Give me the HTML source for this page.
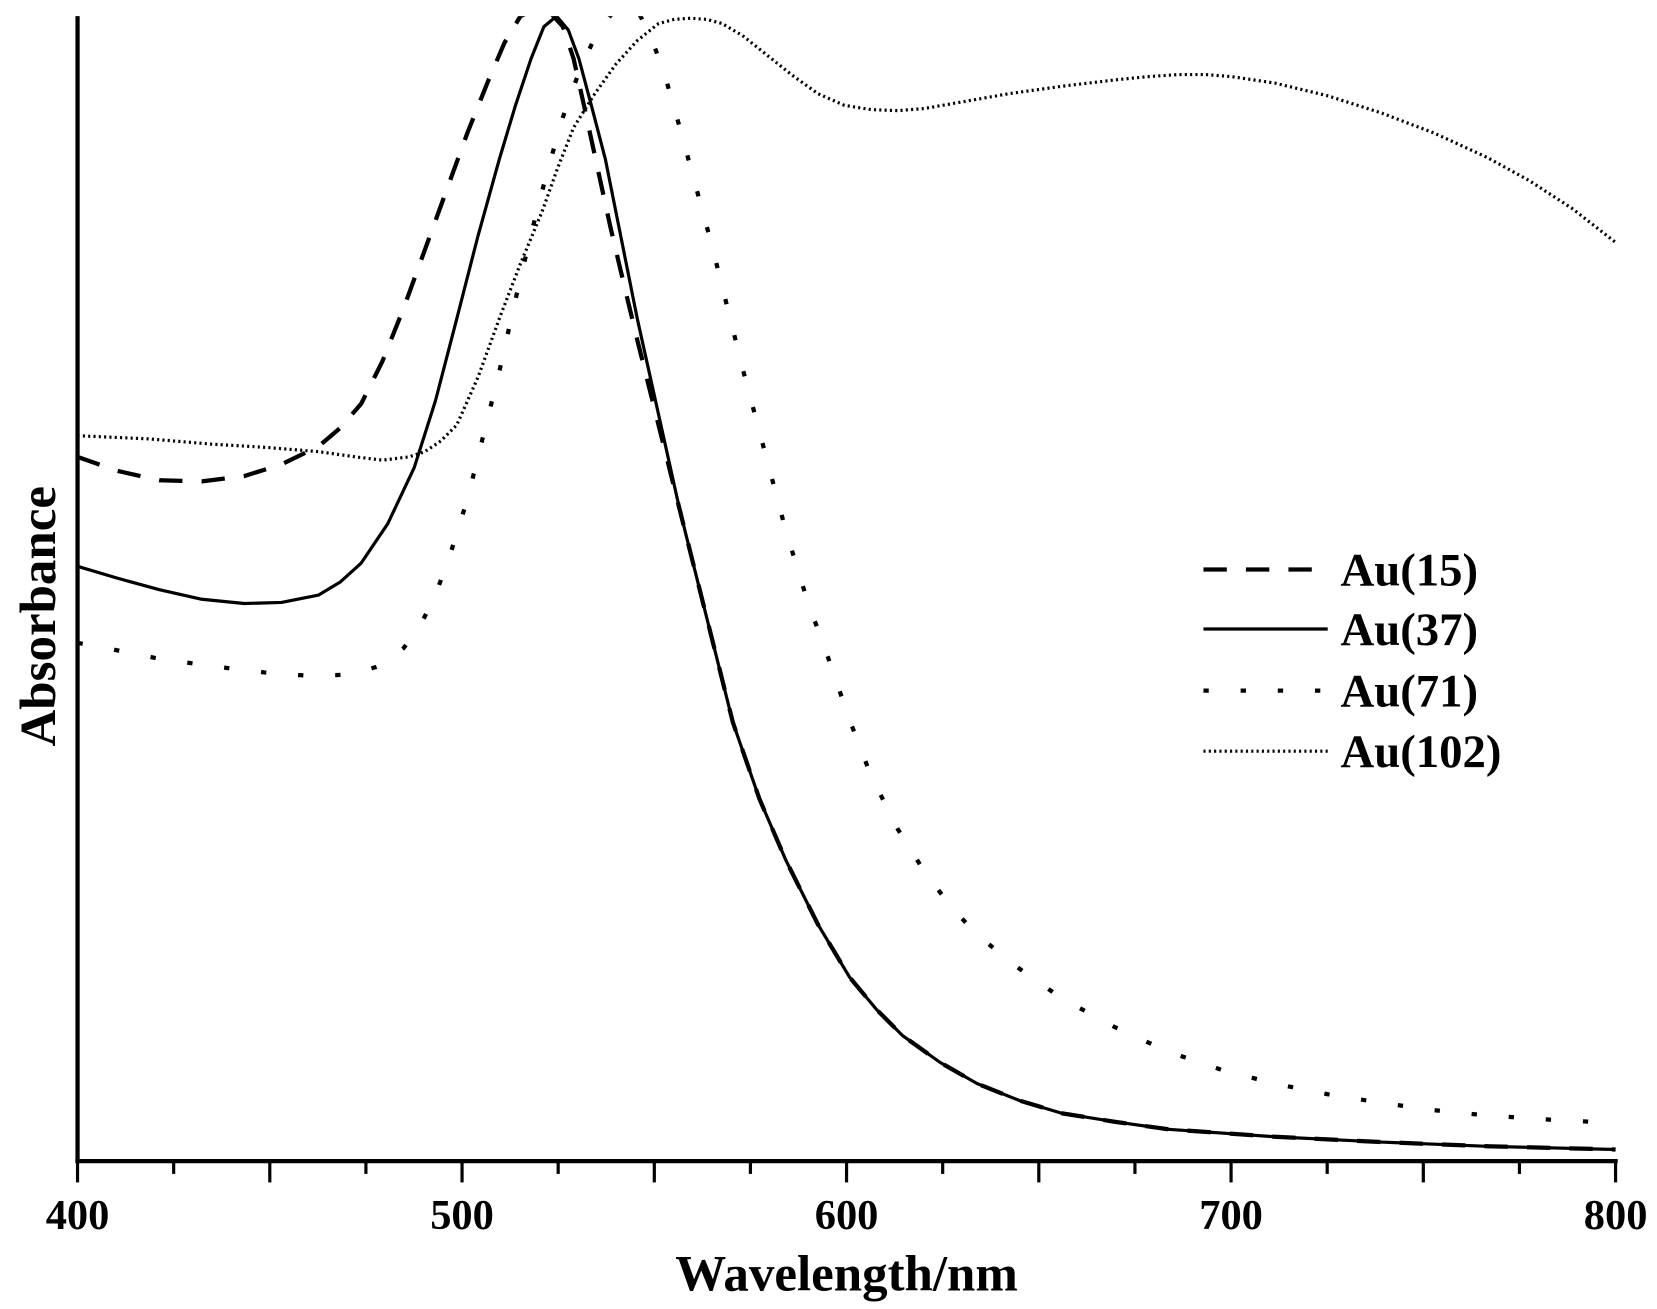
<!DOCTYPE html>
<html><head><meta charset="utf-8"><style>html,body{margin:0;padding:0;background:#fff}svg{display:block}</style></head>
<body>
<svg width="1657" height="1309" viewBox="0 0 1560 1232" xmlns="http://www.w3.org/2000/svg" font-family="Liberation Serif, serif" font-weight="bold">
<defs><clipPath id="c"><rect x="73" y="15" width="1460" height="1080"/></clipPath></defs>
<g stroke="#000" stroke-width="4" fill="none">
<line x1="73" y1="15" x2="73" y2="1095"/>
<line x1="71" y1="1093" x2="1523" y2="1093"/>
</g>
<g stroke="#000" stroke-width="3">
<line x1="73" y1="1093" x2="73" y2="1113"/>
<line x1="163.5" y1="1093" x2="163.5" y2="1105"/>
<line x1="254" y1="1093" x2="254" y2="1113"/>
<line x1="344.5" y1="1093" x2="344.5" y2="1105"/>
<line x1="435" y1="1093" x2="435" y2="1113"/>
<line x1="525.5" y1="1093" x2="525.5" y2="1105"/>
<line x1="616" y1="1093" x2="616" y2="1113"/>
<line x1="706.5" y1="1093" x2="706.5" y2="1105"/>
<line x1="797" y1="1093" x2="797" y2="1113"/>
<line x1="887.5" y1="1093" x2="887.5" y2="1105"/>
<line x1="978" y1="1093" x2="978" y2="1113"/>
<line x1="1068.5" y1="1093" x2="1068.5" y2="1105"/>
<line x1="1159" y1="1093" x2="1159" y2="1113"/>
<line x1="1249.5" y1="1093" x2="1249.5" y2="1105"/>
<line x1="1340" y1="1093" x2="1340" y2="1113"/>
<line x1="1430.5" y1="1093" x2="1430.5" y2="1105"/>
<line x1="1521" y1="1093" x2="1521" y2="1113"/>
</g>
<g font-size="40" text-anchor="middle">
<text x="73" y="1157">400</text><text x="435" y="1157">500</text><text x="797" y="1157">600</text><text x="1159" y="1157">700</text><text x="1521" y="1157">800</text>
</g>
<text x="797" y="1215" font-size="48" text-anchor="middle">Wavelength/nm</text>
<text transform="translate(52,580) rotate(-90)" font-size="48" text-anchor="middle">Absorbance</text>
<g clip-path="url(#c)" fill="none" stroke="#000" stroke-width="3" stroke-linejoin="round">
<polyline stroke-dasharray="2 3" points="73,410 140,413 200,418 250,421 300,425 335,430 360,433 385,430 400,425 415,415 430,400 450,355 470,300 490,248 510,200 525,158 540,120 560,88 580,60 600,38 620,22 635,18 650,17 665,18 680,22 700,34 720,50 745,70 770,88 795,99 820,103 845,104 870,102 910,95 950,88 1000,81 1050,75 1080,72 1110,70 1135,70 1160,72 1200,78 1250,90 1300,106 1350,125 1400,148 1440,170 1480,196 1521,228"/>
<polyline stroke-dasharray="5 30" stroke-width="4" points="73,605 110,612 150,620 200,627 250,633 290,636 330,635 360,626 380,610 395,590 410,560 425,518 440,470 455,410 470,350 485,283 500,220 515,162 530,110 545,68 560,35 575,14 590,5 603,15 615,40 628,78 640,120 655,175 670,230 685,290 700,350 720,425 740,500 760,565 780,620 800,678 820,730 845,780 870,820 895,853 920,880 960,912 1000,940 1050,967 1100,990 1150,1007 1200,1020 1250,1030 1300,1038 1350,1045 1400,1050 1460,1054 1521,1057"/>
<polyline stroke-dasharray="22 18" stroke-width="4" points="73,430 110,443 150,452 190,453 230,448 265,437 300,420 320,403 340,380 360,340 380,290 400,235 420,180 440,125 460,75 475,40 490,15 512,5 530,25 540,55 550,100 563,160 575,215 588,270 600,320 620,400 640,480 665,580 690,680 715,752 740,810 770,870 800,920 825,950 850,975 885,1000 920,1020 960,1036 1000,1048 1050,1056 1100,1063 1200,1070 1300,1075 1400,1079 1521,1082"/>
<polyline points="73,533 110,544 150,555 190,564 230,568 265,567 300,560 320,548 340,530 365,493 390,440 410,377 430,300 450,222 470,150 485,100 500,55 512,25 524,15 535,28 545,55 557,100 570,150 585,225 600,300 620,390 640,480 665,580 690,680 715,752 740,810 770,870 800,920 825,950 850,975 885,1000 920,1020 960,1036 1000,1048 1050,1056 1100,1063 1200,1070 1300,1075 1400,1079 1521,1082"/>
</g>
<g stroke="#000" stroke-width="3" fill="none">
<line x1="1133" y1="536" x2="1250" y2="536" stroke-dasharray="22 18" stroke-width="4"/>
<line x1="1133" y1="592" x2="1250" y2="592"/>
<line x1="1133" y1="650" x2="1250" y2="650" stroke-dasharray="5 30" stroke-width="4"/>
<line x1="1133" y1="707" x2="1250" y2="707" stroke-dasharray="2 3"/>
</g>
<g font-size="44">
<text x="1262" y="551">Au(15)</text><text x="1262" y="607">Au(37)</text><text x="1262" y="665">Au(71)</text><text x="1262" y="722">Au(102)</text>
</g>
</svg>
</body></html>
